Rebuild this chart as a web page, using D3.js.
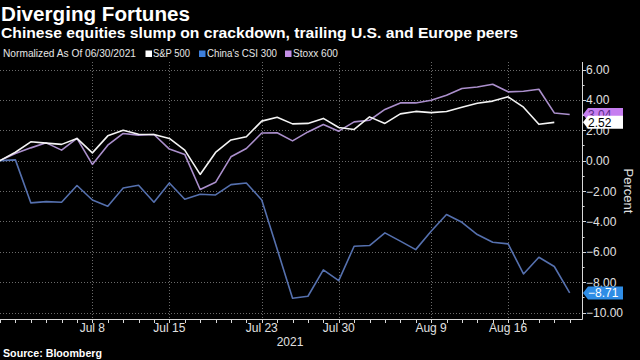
<!DOCTYPE html>
<html><head><meta charset="utf-8">
<script src="https://cdn.jsdelivr.net/npm/d3@7"></script>
<style>
html,body{margin:0;padding:0;background:#000;}
svg{display:block;font-family:"Liberation Sans",Arial,sans-serif;}
</style></head>
<body>
<svg id="c" width="640" height="360"></svg>
<script>
// ---- data ----
const dates = ["2021-06-30","2021-07-01","2021-07-02","2021-07-05","2021-07-06","2021-07-07","2021-07-08","2021-07-09",
"2021-07-12","2021-07-13","2021-07-14","2021-07-15","2021-07-16","2021-07-19","2021-07-20","2021-07-21","2021-07-22","2021-07-23",
"2021-07-26","2021-07-27","2021-07-28","2021-07-29","2021-07-30","2021-08-02","2021-08-03","2021-08-04","2021-08-05","2021-08-06",
"2021-08-09","2021-08-10","2021-08-11","2021-08-12","2021-08-13","2021-08-16","2021-08-17","2021-08-18","2021-08-19","2021-08-20"];
const sp500 = [0,0.55,1.24,1.15,1.07,1.46,0.51,1.63,2.0,1.74,1.72,1.46,0.69,-0.91,0.54,1.36,1.57,2.6,2.86,2.42,2.45,2.78,2.18,2.05,2.88,2.45,3.08,3.24,3.16,3.23,3.52,3.78,3.92,4.2,3.52,2.39,2.52,null];
const csi300 = [0,0.05,-2.78,-2.7,-2.74,-1.64,-2.59,-3.0,-1.8,-1.62,-2.74,-1.47,-2.54,-2.21,-2.26,-1.58,-1.47,-2.59,-5.82,-9.06,-8.93,-7.19,-7.9,-5.64,-5.59,-4.76,-5.3,-5.86,-4.65,-3.55,-4.06,-4.87,-5.37,-5.48,-7.46,-6.36,-6.97,-8.71];
const stoxx600 = [0,0.47,0.84,1.17,0.69,1.46,-0.25,1.02,1.79,1.68,1.72,0.76,0.41,-1.9,-1.43,0.25,0.8,1.82,1.83,1.3,1.89,2.38,1.94,2.55,2.66,3.37,3.8,3.8,3.98,4.31,4.75,4.85,5.03,4.53,4.57,4.7,3.14,3.04];
const xTickDates = ["2021-07-08","2021-07-15","2021-07-23","2021-07-30","2021-08-09","2021-08-16"];
const xTickLabels = ["Jul 8","Jul 15","Jul 23","Jul 30","Aug 9","Aug 16"];
const yTicks = [6,4,2,0,-2,-4,-6,-8,-10];
const seriesNames = ["S&P 500","China's CSI 300","Stoxx 600"];

// ---- layout ----
const svg = d3.select("#c");
const W = 640, H = 360;
const plot = {left:0, right:582, top:62, bottom:319};
const x = d3.scaleLinear().domain([0, 37.8]).range([plot.left, plot.right]);
const y = d3.scaleLinear().domain([-10, 6]).range([312.5, 69.5]);
const idx = d => dates.indexOf(d);

svg.append("rect").attr("width",W).attr("height",H).attr("fill","#000");

// titles
svg.append("text").attr("x",1).attr("y",21).attr("fill","#fff").attr("font-weight","bold")
  .attr("font-size",20).attr("textLength",189).attr("lengthAdjust","spacingAndGlyphs").text("Diverging Fortunes");
svg.append("text").attr("x",1).attr("y",38).attr("fill","#fff").attr("font-weight","bold")
  .attr("font-size",14).attr("textLength",517).attr("lengthAdjust","spacingAndGlyphs")
  .text("Chinese equities slump on crackdown, trailing U.S. and Europe peers");

// legend
const lg = svg.append("g").attr("font-size",10.5).attr("fill","#e6e6e6");
lg.append("text").attr("x",3).attr("y",57).attr("textLength",133).attr("lengthAdjust","spacingAndGlyphs").text("Normalized As Of 06/30/2021");
const legendItems = [
  {name:seriesNames[0], color:"#ffffff", sx:145.5, tx:153, tw:37},
  {name:seriesNames[1], color:"#3d7fdc", sx:199, tx:207, tw:70},
  {name:seriesNames[2], color:"#c48fe6", sx:285, tx:293, tw:45}
];
legendItems.forEach(it=>{
  lg.append("rect").attr("x",it.sx).attr("y",50.5).attr("width",6.5).attr("height",6.5).attr("fill",it.color);
  lg.append("text").attr("x",it.tx).attr("y",57).attr("textLength",it.tw).attr("lengthAdjust","spacingAndGlyphs").text(it.name);
});

// grid
const grid = svg.append("g").attr("stroke","#6a6a6a").attr("stroke-width",1).attr("stroke-dasharray","1,2");
yTicks.forEach(v=>{
  grid.append("line").attr("x1",plot.left).attr("x2",plot.right).attr("y1",Math.round(y(v))+0.5).attr("y2",Math.round(y(v))+0.5);
});
xTickDates.forEach(d=>{
  const xx = Math.round(x(idx(d)))+0.5;
  grid.append("line").attr("x1",xx).attr("x2",xx).attr("y1",plot.top).attr("y2",plot.bottom);
});

// axes
const ax = svg.append("g").attr("stroke","#d8d8d8").attr("stroke-width",1);
ax.append("line").attr("x1",plot.left).attr("x2",plot.right+0.5).attr("y1",plot.bottom+0.5).attr("y2",plot.bottom+0.5);
ax.append("line").attr("x1",plot.right+0.5).attr("x2",plot.right+0.5).attr("y1",plot.top).attr("y2",plot.bottom+0.5);
dates.forEach((d,i)=>{
  const xx = Math.round(x(i))+0.5;
  ax.append("line").attr("x1",xx).attr("x2",xx).attr("y1",plot.bottom).attr("y2",plot.bottom+4);
});
d3.range(-10,7,1).forEach(v=>{
  const yy = Math.round(y(v))+0.5;
  const major = v%2===0;
  ax.append("line").attr("x1",plot.right).attr("x2",plot.right+(major?4:2.5)).attr("y1",yy).attr("y2",yy);
});

const lab = svg.append("g").attr("fill","#e0e0e0").attr("font-size",12);
yTicks.forEach(v=>{
  lab.append("text").attr("x",586).attr("y",y(v)+4.5).text(d3.format(".2f")(v).replace("-","-"));
});
xTickDates.forEach((d,k)=>{
  lab.append("text").attr("x",x(idx(d))).attr("y",332).attr("text-anchor","middle").text(xTickLabels[k]);
});
lab.append("text").attr("x",290).attr("y",345.5).attr("text-anchor","middle").text("2021");
lab.append("text").attr("transform","translate(624,191) rotate(90)").attr("text-anchor","middle")
  .attr("font-size",13).text("Percent");

svg.append("text").attr("x",3).attr("y",357).attr("fill","#fff").attr("font-weight","bold").attr("font-size",11)
  .attr("textLength",99).attr("lengthAdjust","spacingAndGlyphs").text("Source: Bloomberg");

// lines
const line = d3.line().defined(v=>v!=null).x((v,i)=>x(i)).y(v=>y(v));
const series = [
  {vals:stoxx600, color:"#ab8fcc", box:"#c67ef0", txt:"#5b2b86"},
  {vals:csi300, color:"#5570ae", box:"#2f8de6", txt:"#ffffff"},
  {vals:sp500, color:"#f4f4f4", box:"#ffffff", txt:"#000000"}
];
const lines = svg.append("g").attr("fill","none").attr("stroke-width",1.6).attr("stroke-linejoin","round");
series.forEach(s=>{
  lines.append("path").attr("d",line(s.vals)).attr("stroke",s.color);
});

// end value labels
const order = [series[0], series[1], series[2]];
order.forEach(s=>{
  let last = null;
  for (let i=s.vals.length-1;i>=0;i--){ if(s.vals[i]!=null){last=s.vals[i];break;} }
  const yc = y(last), h=13, x0=583, x1=623;
  const g = svg.append("g");
  g.append("path").attr("d",`M${x0},${yc} L${x0+5},${yc-h/2} L${x1},${yc-h/2} L${x1},${yc+h/2} L${x0+5},${yc+h/2} Z`)
    .attr("fill",s.box);
  g.append("text").attr("x",588).attr("y",yc+4.5).attr("font-size",12).attr("fill",s.txt).text(d3.format(".2f")(last));
});
</script>
</body></html>
